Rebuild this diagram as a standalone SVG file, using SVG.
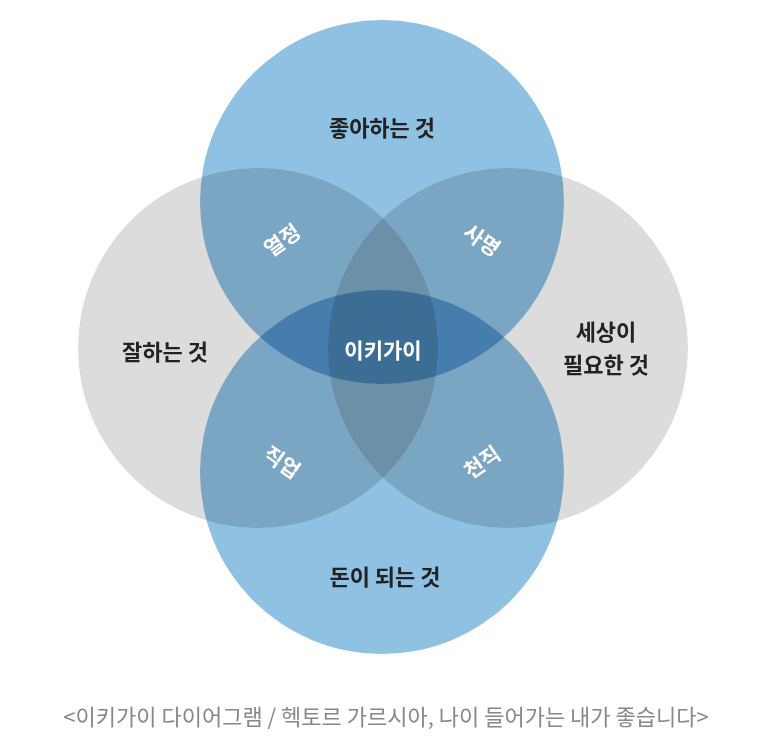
<svg xmlns="http://www.w3.org/2000/svg" width="773" height="754" viewBox="0 0 773 754">
<style>
.c{mix-blend-mode:multiply}
.g{fill:#dcdcdc}
.b{fill:#8fc1e2}
text{font-family:"Noto Sans CJK KR","Noto Sans",sans-serif;text-anchor:middle}
.o{font-size:22px;font-weight:bold;fill:#222}
.i{font-size:21px;font-weight:bold;fill:#fff}
</style>
<rect width="773" height="754" fill="#fff"/>
<g id="nodes" style="isolation:isolate">
<g id="left"><circle class="c g" cx="258" cy="348" r="180"/></g>
<g id="right"><circle class="c g" cx="508" cy="348" r="180"/></g>
<g id="top"><circle class="c b" cx="382" cy="202" r="182"/></g>
<g id="bottom"><circle class="c b" cx="382" cy="472" r="182"/></g>
</g>
<g id="connectors"></g>
<g id="labels">
<text class="o" x="382" y="136">좋아하는 것</text>
<text class="o" x="165" y="360">잘하는 것</text>
<text class="o" x="606" y="340">세상이</text>
<text class="o" x="606" y="373">필요한 것</text>
<text class="o" x="385" y="585">돈이 되는 것</text>
<text class="i" x="383" y="358">이키가이</text>
<text class="i" x="282" y="248" transform="rotate(-35 282 240)">열정</text>
<text class="i" x="482" y="248" transform="rotate(35 482 240)">사명</text>
<text class="i" x="282" y="470" transform="rotate(35 282 462)">직업</text>
<text class="i" x="482" y="470" transform="rotate(-35 482 462)">천직</text>
<text x="386" y="725" font-size="22" fill="#888">&lt;이키가이 다이어그램 / 헥토르 가르시아, 나이 들어가는 내가 좋습니다&gt;</text>
</g>
</svg>
